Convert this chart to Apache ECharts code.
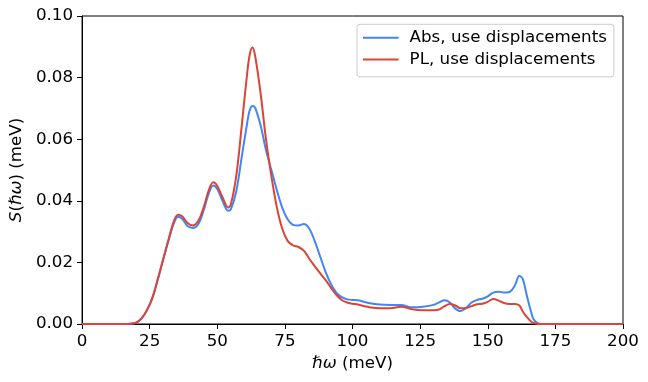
<!DOCTYPE html>
<html>
<head>
<meta charset="utf-8">
<script src="https://cdn.jsdelivr.net/npm/echarts@6/dist/echarts.min.js"></script>
<style>html,body{margin:0;padding:0;background:#fff;}#c{width:648px;height:382px;}</style>
</head>
<body>
<div id="c"></div>
<script>
var energy = [0,10,16,18,20,22,24,26,28,30,32,34,35.5,37,39,41,43,45,47,48.5,50,52,54,55,57,59,61,62,63,64,66,68,70,72,74,76,78,80,82,84,86,88,90,92,94,96,98,100,102,106,110,114,118,122,126,130,132,134,136,138,140,142,144,146,148,150,152,154,156,158,160,161.7,163,164.5,166,167,169,175,200];
var absVals = [0,0,0,0.0001,0.0004,0.0018,0.0045,0.0085,0.0145,0.021,0.0272,0.0328,0.0348,0.0342,0.0318,0.0312,0.0325,0.037,0.0428,0.045,0.0438,0.0398,0.0368,0.0372,0.043,0.054,0.065,0.0695,0.0708,0.0702,0.0645,0.0565,0.05,0.0435,0.0378,0.034,0.0322,0.032,0.0325,0.031,0.027,0.022,0.017,0.013,0.0102,0.0087,0.008,0.0078,0.0077,0.0068,0.0063,0.0062,0.0062,0.0054,0.0056,0.0062,0.007,0.0077,0.007,0.005,0.0042,0.0052,0.007,0.0078,0.0082,0.009,0.0102,0.0105,0.0102,0.0104,0.0125,0.0157,0.0145,0.009,0.004,0.0015,0.0001,0,0];
var plVals = [0,0,0,0.0001,0.0004,0.0018,0.0045,0.0085,0.0145,0.021,0.0275,0.0335,0.0355,0.035,0.0328,0.032,0.0335,0.038,0.0438,0.046,0.0448,0.041,0.0378,0.0388,0.048,0.064,0.081,0.0875,0.0898,0.087,0.075,0.06,0.048,0.038,0.031,0.027,0.0255,0.025,0.0238,0.0212,0.0188,0.0165,0.0143,0.0118,0.0095,0.0078,0.007,0.0066,0.0063,0.0055,0.0051,0.0051,0.0056,0.0048,0.0045,0.0045,0.0047,0.0058,0.0065,0.006,0.0051,0.0052,0.0058,0.0064,0.0066,0.0072,0.0081,0.0076,0.0068,0.0065,0.0065,0.006,0.004,0.0022,0.0008,0.0003,0,0,0];
var seriesNames = ['Abs, use displacements', 'PL, use displacements'];
var xTicks = [0,25,50,75,100,125,150,175,200];
var yTicks = [0.00,0.02,0.04,0.06,0.08,0.10];

function pairs(xs, ys){ return xs.map(function(x,i){ return [x, ys[i]]; }); }
var FONT = 'DejaVu Sans';
var FS = 16.7;
var chart = echarts.init(document.getElementById('c'), null, {renderer:'canvas'});
chart.setOption({
  animation:false,
  backgroundColor:'#fff',
  textStyle:{fontFamily:FONT},
  grid:{left:80, right:25, top:16, bottom:58, show:true, borderColor:'#000', borderWidth:1, backgroundColor:'transparent'},
  legend:{
    left:357, top:24.3, orient:'vertical',
    data:seriesNames,
    icon:'rect', itemWidth:35.6, itemHeight:2, itemGap:1.6,
    padding:[3.5,7,7.5,6],
    borderColor:'#cccccc', borderWidth:1, borderRadius:3,
    backgroundColor:'rgba(255,255,255,0.8)',
    textStyle:{fontFamily:FONT, fontSize:FS, color:'#000', lineHeight:20, padding:[0,0,0,6]}
  },
  xAxis:{
    type:'value', min:xTicks[0], max:xTicks[xTicks.length-1], interval:xTicks[1]-xTicks[0],
    name:'ℏ{i|ω} (meV)', nameLocation:'middle', nameGap:29,
    nameTextStyle:{fontFamily:FONT, fontSize:FS, color:'#000', rich:{i:{fontStyle:'italic', fontFamily:FONT, fontSize:FS}}},
    axisLine:{show:true, onZero:false, lineStyle:{color:'#000', width:1}},
    axisTick:{show:true, inside:false, length:5, lineStyle:{color:'#000', width:1}},
    axisLabel:{fontFamily:FONT, fontSize:FS, color:'#000', margin:9},
    splitLine:{show:false}
  },
  yAxis:{
    type:'value', min:yTicks[0], max:yTicks[yTicks.length-1], interval:0.02,
    name:'{i|S}(ℏ{i|ω}) (meV)', nameLocation:'middle', nameGap:54, nameRotate:90,
    nameTextStyle:{fontFamily:FONT, fontSize:FS, color:'#000', rich:{i:{fontStyle:'italic', fontFamily:FONT, fontSize:FS}}},
    axisLine:{show:true, onZero:false, lineStyle:{color:'#000', width:1}},
    axisTick:{show:true, inside:false, length:5, lineStyle:{color:'#000', width:1}},
    axisLabel:{fontFamily:FONT, fontSize:FS, color:'#000', margin:9, formatter:function(v){return v.toFixed(2);}},
    splitLine:{show:false}
  },
  series:[
    {name:seriesNames[0], type:'line', data:pairs(energy, absVals), showSymbol:false, symbol:'none', smooth:0.35,
     lineStyle:{color:'#4285F4', width:2}, itemStyle:{color:'#4285F4'}},
    {name:seriesNames[1], type:'line', data:pairs(energy, plVals), showSymbol:false, symbol:'none', smooth:0.35,
     lineStyle:{color:'#DB4437', width:2}, itemStyle:{color:'#DB4437'}}
  ]
});
</script>
</body>
</html>
